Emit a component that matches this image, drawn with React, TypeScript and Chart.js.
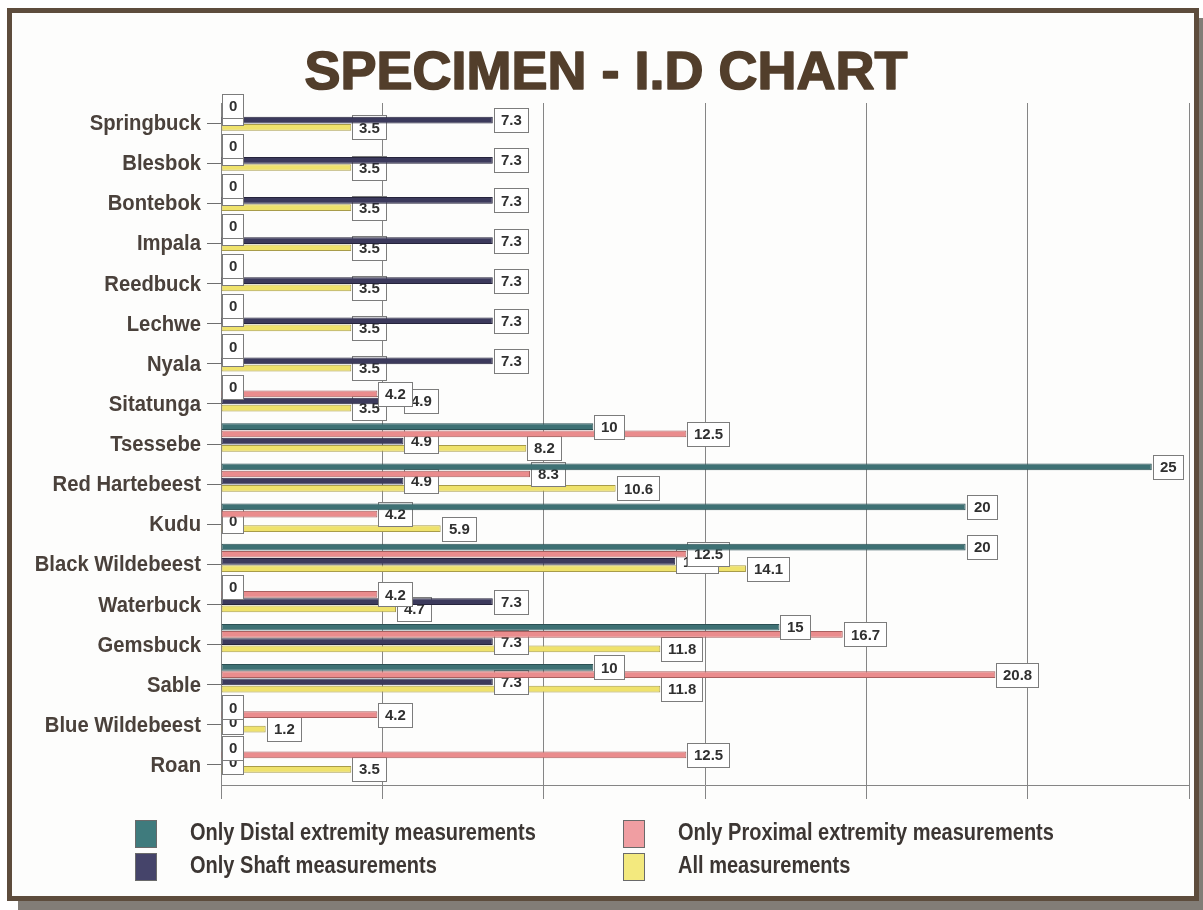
import React, { useEffect, useRef } from 'react';
import { Chart, registerables } from 'chart.js';

Chart.register(...registerables);

// ---- data -------------------------------------------------------------
const TITLE = 'SPECIMEN - I.D CHART';

const SPECIES = [
  'Springbuck', 'Blesbok', 'Bontebok', 'Impala', 'Reedbuck', 'Lechwe', 'Nyala',
  'Sitatunga', 'Tsessebe', 'Red Hartebeest', 'Kudu', 'Black Wildebeest',
  'Waterbuck', 'Gemsbuck', 'Sable', 'Blue Wildebeest', 'Roan',
];

const DISTAL = [0, 0, 0, 0, 0, 0, 0, 0, 10, 25, 20, 20, 0, 15, 10, 0, 0];
const PROXIMAL = [0, 0, 0, 0, 0, 0, 0, 4.2, 12.5, 8.3, 4.2, 12.5, 4.2, 16.7, 20.8, 4.2, 12.5];
const SHAFT = [7.3, 7.3, 7.3, 7.3, 7.3, 7.3, 7.3, 4.9, 4.9, 4.9, 0, 12.2, 7.3, 7.3, 7.3, 0, 0];
const ALL = [3.5, 3.5, 3.5, 3.5, 3.5, 3.5, 3.5, 3.5, 8.2, 10.6, 5.9, 14.1, 4.7, 11.8, 11.8, 1.2, 3.5];

const SERIES_NAMES = [
  'Only Distal extremity measurements',
  'Only Proximal extremity measurements',
  'Only Shaft measurements',
  'All measurements',
];

const X_MAX = 26;
const X_DIVISIONS = 6;

// ---- styles -----------------------------------------------------------
const FAMILY = '"Liberation Sans", Arial, Helvetica, sans-serif';
const FILLS = ['#3e7174', '#ea8c8d', '#3c3a5c', '#efe26c'];
const EDGES = ['#2c5053', '#a9605f', '#26243c', '#a89c4a'];
const LEGEND_FILLS = ['#3f7b7d', '#f09ea2', '#45446a', '#f3e97e'];
const LABEL_INK = '#4a413b';
const TITLE_INK = '#523e2b';
const GRID_INK = '#858585';
const FRAME_INK = '#5d4c3c';
const SHADOW_INK = '#827d77';

// bars sit a little above the category tick, as in the printed sheet
const GROUP_RAISE = 6.5;

function condensedText(
  ctx: CanvasRenderingContext2D,
  text: string,
  x: number,
  y: number,
  font: string,
  align: CanvasTextAlign,
  squeeze: number,
  color: string,
) {
  ctx.save();
  ctx.font = font;
  ctx.fillStyle = color;
  ctx.textAlign = align;
  ctx.textBaseline = 'middle';
  ctx.translate(x, y);
  ctx.scale(squeeze, 1);
  ctx.fillText(text, 0, 0);
  ctx.restore();
}

const sheetPlugin = {
  id: 'sheet',
  beforeDraw(chart: any) {
    const { ctx, width, height } = chart;
    ctx.save();
    ctx.fillStyle = '#ffffff';
    ctx.fillRect(0, 0, width, height);
    // drop shadow to the right and below the frame
    ctx.fillStyle = SHADOW_INK;
    ctx.fillRect(1199, 18, width - 1199, height - 18);
    ctx.fillRect(18, 901, width - 18, height - 901);
    ctx.fillStyle = '#fdfdfc';
    ctx.fillRect(9.5, 10.5, 1187, 888);
    ctx.strokeStyle = FRAME_INK;
    ctx.lineWidth = 5;
    ctx.strokeRect(9.5, 10.5, 1187, 888);
    // title, with a thin outline to give it the heavy print weight
    ctx.fillStyle = TITLE_INK;
    ctx.strokeStyle = TITLE_INK;
    ctx.lineWidth = 1.6;
    ctx.lineJoin = 'round';
    ctx.font = `bold 54px ${FAMILY}`;
    ctx.textAlign = 'center';
    ctx.textBaseline = 'alphabetic';
    ctx.fillText(TITLE, 606, 89);
    ctx.strokeText(TITLE, 606, 89);
    ctx.restore();
  },
  afterDatasetsUpdate(chart: any) {
    chart.data.datasets.forEach((_: any, i: number) => {
      chart.getDatasetMeta(i).data.forEach((el: any) => {
        el.y -= GROUP_RAISE;
      });
    });
  },
  // value boxes are drawn series by series, so bars of the next series cover them
  afterDatasetDraw(chart: any, args: any) {
    const { ctx } = chart;
    const ds = chart.data.datasets[args.index];
    ctx.save();
    ctx.font = `bold 15px ${FAMILY}`;
    ctx.textBaseline = 'middle';
    ctx.textAlign = 'left';
    args.meta.data.forEach((el: any, i: number) => {
      const v = ds.data[i];
      if (v === null || v === undefined) return;
      const text = String(v);
      const w = Math.round(ctx.measureText(text).width + 13);
      const h = 24;
      const left = Math.round(el.x) + 1.5;
      const top = Math.round(el.y - h / 2) + 0.5;
      ctx.fillStyle = '#ffffff';
      ctx.fillRect(left, top, w, h);
      ctx.strokeStyle = '#7c7c7c';
      ctx.lineWidth = 1;
      ctx.strokeRect(left, top, w, h);
      ctx.fillStyle = '#303030';
      ctx.fillText(text, left + 6.5, el.y + 1);
    });
    ctx.restore();
  },
  afterDraw(chart: any) {
    const { ctx } = chart;
    const yScale = chart.scales.y;
    // category names
    SPECIES.forEach((name, i) => {
      condensedText(ctx, name, 201, yScale.getPixelForValue(i) + 1, `bold 22px ${FAMILY}`, 'right', 0.92, LABEL_INK);
    });
    // legend, two columns
    const cols = [135, 623];
    const rows = [820, 853];
    SERIES_NAMES.forEach((name, i) => {
      const x = cols[i % 2];
      const y = rows[Math.floor(i / 2)];
      ctx.save();
      ctx.fillStyle = LEGEND_FILLS[i];
      ctx.fillRect(x, y, 22, 28);
      ctx.strokeStyle = '#6a6a6a';
      ctx.lineWidth = 1;
      ctx.strokeRect(x + 0.5, y + 0.5, 21, 27);
      ctx.restore();
      condensedText(ctx, name, x + 55, y + 14, `bold 23px ${FAMILY}`, 'left', 0.87, '#3c3633');
    });
  },
};

export default function App() {
  const canvasRef = useRef<HTMLCanvasElement | null>(null);

  useEffect(() => {
    const canvas = canvasRef.current;
    if (!canvas) return;
    const series = [DISTAL, PROXIMAL, SHAFT, ALL];
    const chart = new Chart(canvas, {
      type: 'bar',
      data: {
        labels: SPECIES,
        datasets: series.map((values, i) => ({
          label: SERIES_NAMES[i],
          data: values,
          backgroundColor: FILLS[i],
          borderColor: EDGES[i],
          borderWidth: 1,
          borderSkipped: false,
          categoryPercentage: 0.72,
          barPercentage: 0.93,
        })),
      },
      options: {
        indexAxis: 'y',
        responsive: false,
        maintainAspectRatio: false,
        devicePixelRatio: 1,
        animation: false,
        layout: { padding: { top: 103, left: 20, right: 14, bottom: 111 } },
        plugins: {
          legend: { display: false },
          tooltip: { enabled: false },
          title: { display: false },
        },
        scales: {
          x: {
            type: 'linear',
            min: 0,
            max: X_MAX,
            afterBuildTicks: (scale: any) => {
              scale.ticks = Array.from({ length: X_DIVISIONS + 1 }, (_, k) => ({ value: (k * X_MAX) / X_DIVISIONS }));
            },
            ticks: { display: false },
            grid: { color: GRID_INK, lineWidth: 1, drawTicks: true, tickLength: 14 },
            border: { display: true, color: GRID_INK, width: 1 },
          },
          y: {
            type: 'category',
            offset: true,
            afterFit: (scale: any) => {
              scale.width = 201;
            },
            ticks: { display: false },
            grid: { offset: false, drawOnChartArea: false, drawTicks: true, tickLength: 14, color: '#6f6f6f' },
            border: { display: true, color: GRID_INK, width: 1 },
          },
        },
      },
      plugins: [sheetPlugin],
    });
    return () => chart.destroy();
  }, []);

  return (
    <div style={{ position: 'absolute', left: 0, top: 0, width: 1203, height: 910, background: '#ffffff' }}>
      <canvas ref={canvasRef} width={1203} height={910} style={{ display: 'block', width: 1203, height: 910 }} />
    </div>
  );
}
